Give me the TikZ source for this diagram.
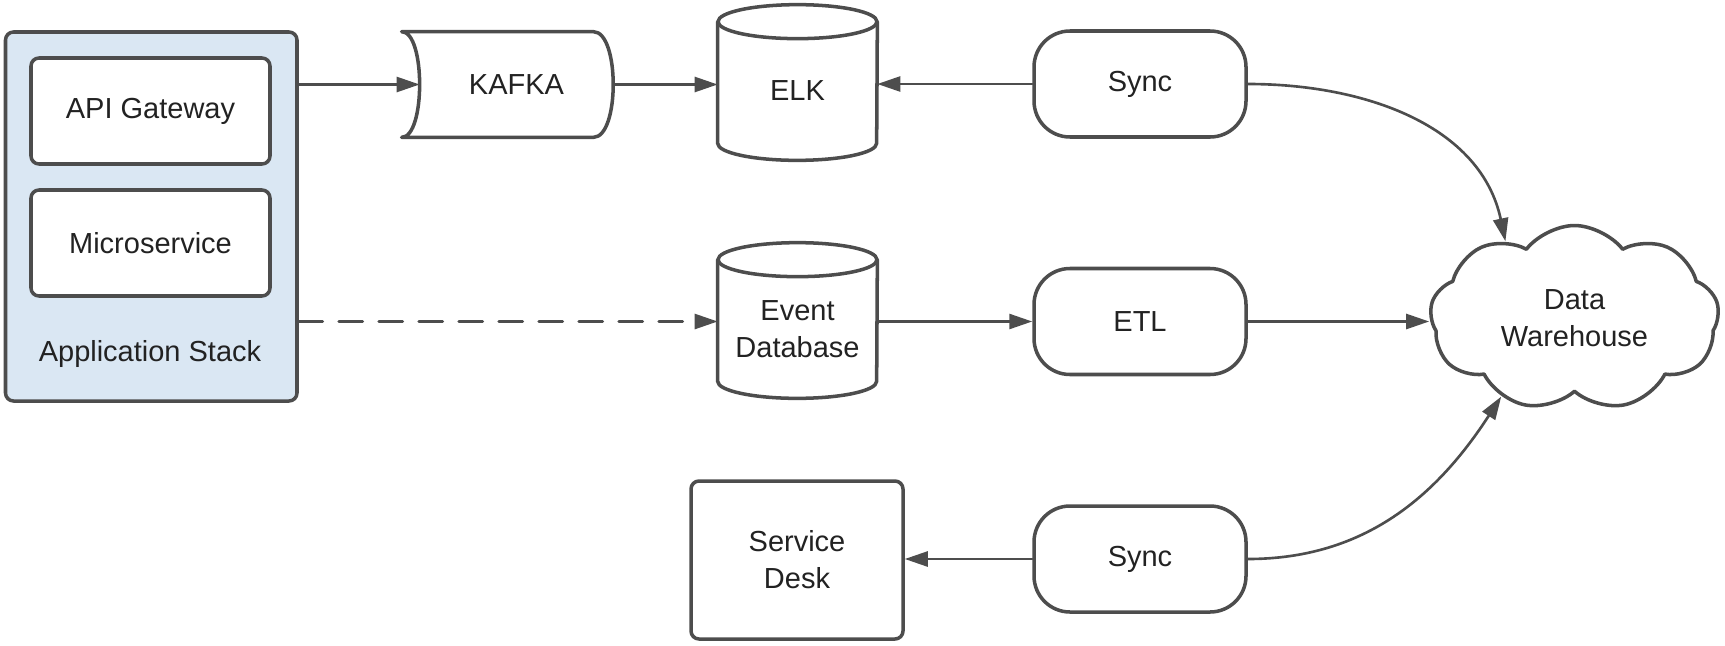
\documentclass[tikz,border=0pt]{standalone}
\usepackage{fontspec}
\setmainfont{Liberation Sans}
\usetikzlibrary{arrows.meta,shapes.symbols}
\definecolor{linegray}{HTML}{4D4D4D}
\definecolor{stackblue}{HTML}{DAE7F3}
\definecolor{txtgray}{HTML}{222222}
\newcommand{\dbdraw}[1]{%
  \draw[draw=linegray,line width=2pt] (#1.north west) -- ([yshift=0.34cm]#1.south west) arc[start angle=180,end angle=360,x radius=1.59cm,y radius=0.34cm] -- (#1.north east);
  \draw[draw=linegray,line width=2pt] (#1.north) ellipse[x radius=1.59cm,y radius=0.34cm];}
\begin{document}
\begin{tikzpicture}[>={Triangle[length=0.46cm,width=0.3cm]},line join=round,line cap=round,font=\fontsize{16.5}{21}\selectfont,text=txtgray,
    box/.style={draw=linegray,line width=2pt,rounded corners=0.16cm,fill=white,align=center},
    term/.style={draw=linegray,line width=2pt,rounded corners=0.72cm,minimum width=4.24cm,minimum height=2.12cm},
    dbnode/.style={minimum width=3.18cm,minimum height=2.76cm,align=center,inner sep=0pt},
    conn/.style={->,draw=linegray,line width=1.5pt}]
  \useasboundingbox (0,0) rectangle (34.5,-12.9);
  \node[box,fill=stackblue,minimum width=5.83cm,minimum height=7.38cm] (app) at (3.025,-4.33) {};
  \node[box,minimum width=4.78cm,minimum height=2.12cm] (gw) at (3.01,-2.22) {API Gateway};
  \node[box,minimum width=4.78cm,minimum height=2.12cm] (ms) at (3.01,-4.86) {Microservice};
  \node (apptitle) at (3.0,-7.08) {Application Stack};
  \node[inner sep=0pt,minimum width=3.86cm,minimum height=2.10cm] (kafka) at (10.33,-1.69) {KAFKA};
  \draw[draw=linegray,line width=2pt] ([xshift=-0.36cm]kafka.north west) -- ([xshift=-0.4cm]kafka.north east) .. controls ([xshift=0.13cm]kafka.north east) and ([xshift=0.13cm]kafka.south east) .. ([xshift=-0.4cm]kafka.south east) -- ([xshift=-0.36cm]kafka.south west) .. controls ([xshift=0.12cm]kafka.south west) and ([xshift=0.12cm]kafka.north west) .. cycle;
  \node[dbnode] (elk) at (15.95,-1.82) {ELK};
  \dbdraw{elk}
  \node[dbnode] (evdb) at (15.95,-6.58) {Event\\Database};
  \dbdraw{evdb}
  \node[term] (sync1) at (22.8,-1.68) {Sync};
  \node[term] (etl) at (22.8,-6.43) {ETL};
  \node[term] (sync2) at (22.8,-11.18) {Sync};
  \node[box,minimum width=4.24cm,minimum height=3.16cm] (desk) at (15.94,-11.2) {Service\\Desk};
  \node[cloud,cloud puffs=9,cloud puff arc=105,aspect=1.6,draw=linegray,line width=2pt,minimum width=5.78cm,minimum height=3.7cm,align=center] (dw) at (31.49,-6.36) {Data\\Warehouse};
  \draw[conn] (app.east |- kafka) -- (kafka.west);
  \draw[conn] (kafka.east) -- (elk.west |- kafka);
  \draw[conn] (sync1.west) -- (elk.east |- sync1);
  \draw[conn,dashed,dash pattern=on 0.48cm off 0.32cm] (app.east |- etl) -- (evdb.west |- etl);
  \draw[conn] (evdb.east |- etl) -- (etl.west);
  \draw[conn] (etl.east) -- (etl.east -| dw.west);
  \draw[conn] (sync2.west) -- (desk.east |- sync2);
  \draw[conn] (sync1.east) to[out=0,in=102] (dw.132);
  \draw[conn] (sync2.east) to[out=0,in=-123] (dw.227);
\end{tikzpicture}
\end{document}
